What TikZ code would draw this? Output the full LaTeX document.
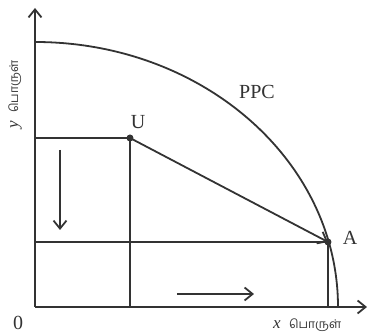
\documentclass[tikz,border=0pt]{standalone}
\usepackage{fontspec}
\setmainfont{Liberation Serif}
\newfontfamily\tamilfont[Script=Tamil]{Hind Madurai}
\usetikzlibrary{arrows.meta}
\definecolor{ink}{HTML}{333333}
\begin{document}
\begin{tikzpicture}[x=1pt,y=1pt,
  line/.style={draw=ink,line width=1.8pt},
  arr/.style={line,-{Straight Barb[length=8pt,width=13pt,line width=1.8pt]}},
  lbl/.style={text=ink,font=\fontsize{20}{22}\selectfont,inner sep=0pt},
  tam/.style={text=ink,inner sep=0pt},
  dot/.style={circle,fill=ink,inner sep=0pt,minimum size=7pt}]
\useasboundingbox (0,0) rectangle (368,336);
\coordinate (O) at (35,29);
\coordinate (Ytop) at (35,328);
\coordinate (Xend) at (367,29);
\node[dot] (U) at (130,198) {};
\node[dot] (A) at (328,94) {};
\coordinate (Uy) at (35,198);
\coordinate (Ux) at (130,29);
\coordinate (Ay) at (35,94);
\coordinate (Ax) at (328,29);
% axes
\draw[arr] (O) -- (Ytop);
\draw[arr] (O) -- (Xend);
% PPC
\draw[line] (35,294) arc[start angle=90,end angle=0,x radius=303,y radius=265];
% guide lines
\draw[line] (Uy) -- (U.center) -- (Ux);
\draw[line] (Ay) -- (A.center) -- (Ax);
\draw[arr] (U.center) -- (A.center);
% movement arrows
\coordinate (d1) at (60,186);
\coordinate (d2) at (60,106);
\coordinate (r1) at (177,42);
\coordinate (r2) at (254,42);
\draw[arr] (d1) -- (d2);
\draw[arr] (r1) -- (r2);
% labels
\node[lbl] (ppc) at (257,244) {PPC};
\node[lbl] (ul) at (138,214) {U};
\node[lbl] (al) at (350,98) {A};
\node[lbl] (zero) at (18,13) {0};
\node[tam,anchor=west] (xl) at (273,11) {\fontsize{17}{18}\selectfont\itshape x\ \ \tamilfont\fontsize{12}{14}\selectfont பொருள்};
\node[tam,anchor=west,rotate=90] (yl) at (15,207) {\fontsize{17}{18}\selectfont\itshape y\ \ \tamilfont\fontsize{12}{14}\selectfont பொருள்};
\end{tikzpicture}
\end{document}
